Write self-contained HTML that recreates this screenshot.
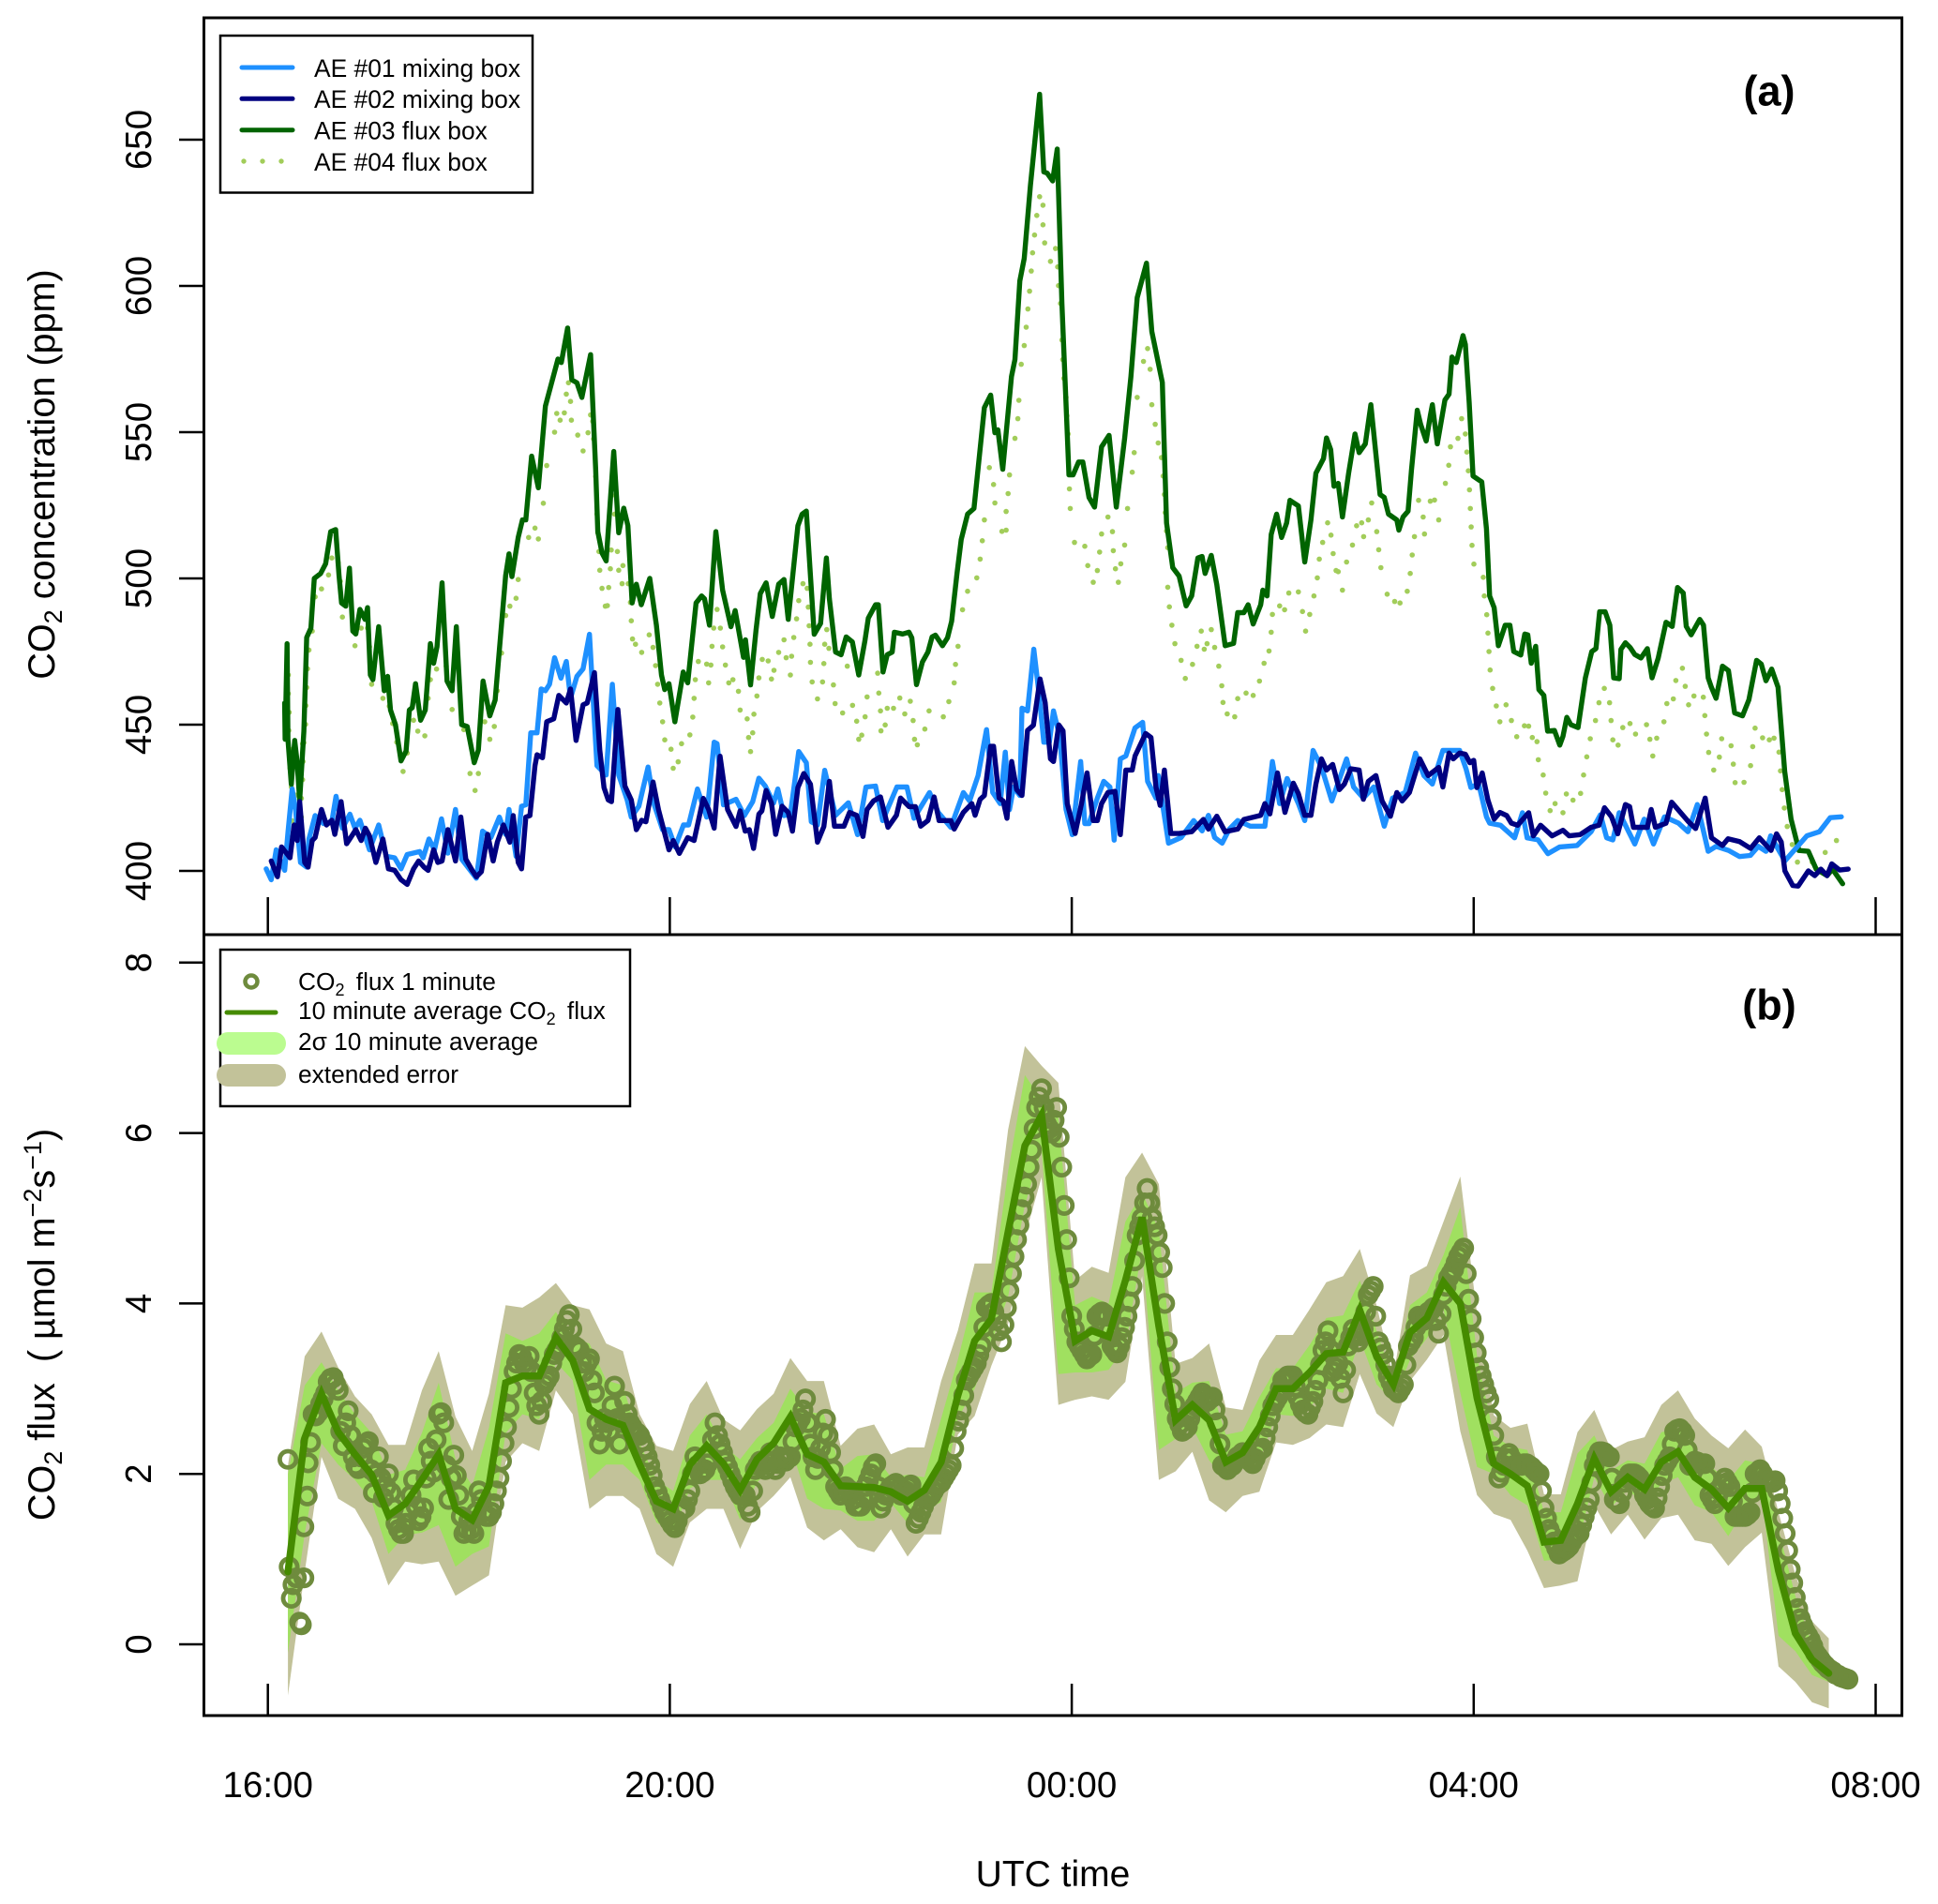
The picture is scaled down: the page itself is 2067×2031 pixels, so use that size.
<!DOCTYPE html>
<html lang="en">
<head>
<meta charset="utf-8">
<title>CO2 concentration and flux</title>
<style>
html,body{margin:0;padding:0;background:#fff;}
svg{display:block;font-family:"Liberation Sans",sans-serif;}
text{fill:#000;}
</style>
</head>
<body>
<svg id="chart" xmlns="http://www.w3.org/2000/svg" width="2067" height="2031" viewBox="0 0 2067 2031">
<rect x="0" y="0" width="2067" height="2031" fill="#fff"/>
<g id="panelA"></g>
<g id="panelB"></g>
<g id="axes"></g>
<rect x="217.5" y="19" width="1811" height="978" fill="none" stroke="#000" stroke-width="3"/>
<rect x="217.5" y="997" width="1811" height="833" fill="none" stroke="#000" stroke-width="3"/>

<g>
<rect x="235" y="38" width="333" height="167.5" fill="#fff" stroke="#000" stroke-width="2.5"/>
<line x1="258" x2="312" y1="72" y2="72" stroke="#1e90ff" stroke-width="5" stroke-linecap="round"/>
<line x1="258" x2="312" y1="105.3" y2="105.3" stroke="#000080" stroke-width="5" stroke-linecap="round"/>
<line x1="258" x2="312" y1="138.7" y2="138.7" stroke="#006400" stroke-width="5" stroke-linecap="round"/>
<circle cx="260" cy="172" r="2.7" fill="#a2cd5a"/>
<circle cx="280" cy="172" r="2.7" fill="#a2cd5a"/>
<circle cx="300" cy="172" r="2.7" fill="#a2cd5a"/>
<text x="335" y="82" font-size="26.4">AE #01 mixing box</text>
<text x="335" y="115" font-size="26.4">AE #02 mixing box</text>
<text x="335" y="148.5" font-size="26.4">AE #03 flux box</text>
<text x="335" y="182" font-size="26.4">AE #04 flux box</text>
</g>

<g>
<rect x="235" y="1013" width="437" height="167" fill="#fff" stroke="#000" stroke-width="2.5"/>
<circle cx="268" cy="1047" r="6.5" fill="none" stroke="#6e8b3d" stroke-width="4.5"/>
<line x1="242" x2="294" y1="1080" y2="1080" stroke="#458b00" stroke-width="5" stroke-linecap="round"/>
<rect x="231" y="1101" width="74" height="24" rx="12" fill="#bbfc90"/>
<rect x="231" y="1135" width="74" height="24" rx="12" fill="#c2c299"/>
<text x="318" y="1056" font-size="26.3">CO<tspan font-size="18" dy="6">2</tspan><tspan dy="-6" dx="5"> flux 1 minute</tspan></text>
<text x="318" y="1087" font-size="26.3">10 minute average CO<tspan font-size="18" dy="6">2</tspan><tspan dy="-6" dx="5"> flux</tspan></text>
<text x="318" y="1120" font-size="26.3">2σ 10 minute average</text>
<text x="318" y="1155" font-size="26.3">extended error</text>
</g>

<text x="1887" y="112.5" font-size="45" font-weight="bold" text-anchor="middle">(a)</text>
<text x="1887" y="1087.5" font-size="45" font-weight="bold" text-anchor="middle">(b)</text>
<text x="1123" y="2012" font-size="39" text-anchor="middle">UTC time</text>
<text transform="translate(58,506) rotate(-90)" font-size="39.6" text-anchor="middle">CO<tspan font-size="27" dy="8">2</tspan><tspan dy="-8"> concentration (ppm)</tspan></text>
<text transform="translate(58,1413) rotate(-90)" font-size="39.6" text-anchor="middle">CO<tspan font-size="27" dy="8">2</tspan><tspan dy="-8"> flux&#160; ( µmol m</tspan><tspan font-size="27" dy="-14">−2</tspan><tspan dy="14">s</tspan><tspan font-size="27" dy="-14">−1</tspan><tspan dy="14">)</tspan></text>
</svg>
<script>
const xTickMinutes = [0, 240, 480, 720, 960];
const xTickLabels = ["16:00", "20:00", "00:00", "04:00", "08:00"];
const concTicks = [400, 450, 500, 550, 600, 650];
const fluxTicks = [0, 2, 4, 6, 8];

const ae03Minutes = [10,10.3,11.5,12,14,16,17.5,19,21.5,23.2,25.7,27.7,31.5,34.5,37.5,40.5,42.5,44,46.5,48.7,50.7,52.5,55,58,59.5,61.2,62.7,66.2,69.5,71.5,73.2,76.2,79.5,82.5,84.5,86.2,88.2,91.2,94,97,99,101,104,107,110,112.5,115.7,119,123.2,125.7,128.5,132.5,135.7,138.2,142,144,145.7,149.5,152,154,157.5,161.5,165.7,173.2,175.2,179,181.5,184.5,187.5,192.7,195.7,197,199.5,202,206.5,209.5,212.5,215,217.5,220,223,228,232,235,237,239.5,243,248,250.7,255.7,259,260.7,263.7,267.5,271.5,276.5,279,284,285.2,288.2,291.5,294,297.5,301.2,305,308.2,310.7,316.5,319,321.5,326.2,330,333.5,335.3,339,342.3,345.3,349,352.8,356.5,358.5,362.8,364.5,367.3,369.8,372.8,374.1,379,382.8,384.5,387.3,390.8,394.1,396.6,398.6,402.8,405.8,408.3,411.5,414,417.8,421.6,427.8,431.6,434.1,435.9,438.8,444,446.1,449,451.6,455.3,460.8,463.3,465.3,468.6,471.3,474.1,478.3,480.8,484.1,486.6,490.3,493.6,497.8,502.3,506.6,511.6,515.3,519.1,524.6,527.8,531.6,534.1,536.6,540.3,544.1,548.3,551.6,555.3,557.8,559.6,563.3,566.6,571.6,576.6,579.1,582.8,585.3,588.3,592.8,594.1,596.6,599.1,602.3,605.3,608.3,610.3,615.3,619.1,622.8,625.8,630.3,632.1,634.6,636.6,639.1,641.6,645.3,649.1,651.6,655.3,658.6,664.1,666.6,669.1,674.1,675.3,677.8,680.8,682.8,686.3,688.3,691.6,694.1,695.3,698.3,702.8,705.3,707,709.6,713.6,715,717.3,719.6,723.3,724.8,727.6,729.5,732.2,734.7,738.8,741.6,743.9,748.1,750.5,752.3,754.4,757,758.9,761.9,764.1,768.2,771.4,773.3,775.6,778,782.3,784.1,786.7,790.5,793,795.2,798.5,801.3,803.6,806.9,807.9,810.6,813.4,816.2,819.9,823.7,826.5,830.2,834.8,838.5,841.7,845.1,846.9,849.8,855,857.2,860,861.9,864.7,868.5,872.1,875.8,880.5,884.3,888.9,891.7,894.5,897.9,901.7,905.7,909.5,914.2,919.8,924.5,931,934.2,940.3];
const ae03Values = [457.4,445,477.7,445,429.6,444.6,437,424,447.8,479.8,483,500,501.7,505,516,516.7,501,491.6,490.5,503.5,482,481,489.4,486,490,467,465.4,483.5,461.6,466.5,455,450,437.6,441,455,455.8,464,451.5,455,477.7,471,476.6,498.5,464.9,461.6,483.5,450,449.4,437,441.3,464.9,453,458.4,475.5,501,508.4,500.6,514,520,520,541.8,531,558.9,575,573.8,585.6,567.9,566.9,561.9,576.5,537.5,516,508.7,506,543.4,515.6,524,518,491.6,498,491,500,484,467,462,464,451,468,464.3,491.6,494,493,484,516,496,483.5,489,473,479,463.6,482.5,494.8,498.5,487,498,499.6,486,518,522,523,480.9,484.6,507,493,474.8,473.9,480,478.3,467,478.7,486.4,491,491,468,473.9,474.8,481.6,481,481.6,479.7,463.7,471.4,474.8,480,480.6,477,479.7,485.4,501.7,513.3,522,523.9,558.4,562.7,549.8,550.8,537.3,569,574.8,601.7,609.4,634.3,665.5,639,638.6,635.9,646.8,594,535.4,535.4,539.8,539.8,527.7,524.4,545,548.9,524.4,547.9,569,596,607.8,584.4,573.8,567,519,503.7,500.8,490.6,494,507,507.5,501.7,507.9,497.9,477,477.8,488.3,488.3,491,484.4,491,496,494,515,522,514,519,526.7,524.8,505.6,520,536,541,548,544,531.5,532.5,521,536,549.4,543,546,559.4,528.7,527.7,522,520,516.5,521,523,537,557.5,552.7,547,555.6,559.4,546,561,563,575.7,573.8,583,580,560,535,533.6,533,517,494,490,477,484,484,475,473.8,481,480.7,471,476.8,462,460,447.8,448,443,446,452.5,450,449,456,466,475,476,488.6,488.6,484,466,465.7,475.7,478,476.4,474,472.8,476,466,472.8,485,483.6,496.9,495,483.6,480.7,486,484,466,462.8,459,470,468.5,454,453,458.5,472,470.7,465,469,462.8,434,417.7,407,406.7,400.6,398.4,400.6,395.6];

const ae02Minutes = [2,5.7,8.2,13.2,15.7,17.5,19,22,24,26.5,28.2,32,35,38.2,40,43.7,47,49.5,52.5,55.7,58.2,60.7,64.5,68.7,72,75.7,79.5,83.2,87,90,93.2,95.7,99,101.5,104,107.5,112,115.2,118.2,122,124.5,127.5,131.2,134.5,137,140.7,144.5,146.5,149.5,151.5,154,156.5,159.5,160.7,164,166.5,170.7,173.7,178.2,180.7,184,188.2,190.7,195,198.2,200.7,203.2,205.2,209,213.2,217,220,223.2,225.7,230,233.2,239.5,242,245.7,250.7,254.5,260,263.2,266.5,270,274.5,279.5,282,285,287.5,290,293.2,295,297.5,300.7,303.2,307,310.7,313.2,316.5,320,324,328.2,332,335.3,338.3,344,347.3,351.6,355.3,357.8,361.6,365.8,370.3,375.3,377.8,382.8,386.6,389.8,394.1,397.8,400.8,407.8,409.8,415.3,420.3,422.3,425.3,427.8,431.6,433.3,436.6,439.1,441.3,444.1,447.1,450.3,453.6,457.1,461.1,464.1,467.3,469.1,472.3,474.8,477.3,482,485.8,489.1,492.8,495.3,497.8,501.6,505.8,509,512.3,516.1,517.8,524.1,527.3,530.3,532.8,535.3,539.1,544.1,551.6,558.6,561.6,566.6,571.6,579.1,582.8,592.8,595.3,598.3,602.8,607.3,612.3,615.3,619.1,622.8,625.8,629.1,632.1,635.8,639.8,642.8,646.6,651.6,654.1,657.1,661.6,665.3,670.3,674.1,677.3,681.6,687.8,692.8,699.1,701.6,705.3,707.8,711.6,715,717.7,720,721.9,725.1,728.5,732.2,735.6,739.7,742.5,746.2,752.8,755.6,759.9,766.8,773.3,777,783.6,790.1,794.8,798.1,802.3,806,810.6,813.1,815.4,823.7,826,828.5,834.8,838.2,848,852.5,858.2,862,868.5,871.9,878.8,885.3,890.5,897.5,900.8,903.6,905.8,910.5,913.7,919.8,923.6,927.3,931,933.8,938.5,943.6];
const ae02Values = [403.4,398,408.2,404.5,415.7,410.4,423.7,402.9,401.3,410.4,411.4,421,415.7,417.3,412.5,423.7,409.3,411.4,414.1,410.4,414.6,412,402.9,410.9,400.7,400.2,397,395.4,400.7,403.4,401.3,400.2,407.2,402.9,403.4,414.1,403.4,418.4,404,400.2,398,399.7,412.5,403.4,409.8,415.7,409.8,418.9,402.9,400.7,418.4,418.9,436,439.7,438.7,451,452,460,457.4,462.2,444.6,456.8,457.4,467.8,441.3,428.5,424.3,423.7,455.2,429,424.3,414.1,417.3,416.8,430.4,421,407.2,410.4,406,411.4,410.4,424.8,421,414.6,439.2,421,415.2,420.5,413.6,414.1,407.7,419.4,420.5,427.5,423.2,412.5,422.1,420,413.6,428.5,433.3,429.6,409.8,415.2,430.6,415.3,415.3,420,419,411.8,421,423.9,425.3,414.9,419,424.9,422,422,415.3,417.2,425.3,417.2,417.2,414.3,420,423,419,424.5,425.8,442.6,442.6,424.9,423.9,418,437.4,427.8,425.8,448,449.8,465.6,457.6,438.3,437.4,449.9,447.9,423,412.8,423,433.5,417.2,417.2,423,426.8,427.2,412.4,434.5,434.5,439.3,447,445.6,428.7,422.4,434.5,412.8,412.8,413.4,417.6,414.3,418.7,413.4,414.3,417.6,419,423,419.5,433.5,420,430,426.4,419,419,429.7,438.3,434.5,436.4,427.8,429.7,434.9,434.5,424.5,430.6,432.6,423.9,418.7,426.8,423.9,426.8,438.3,432.6,435.4,428.7,440.3,438.3,440.3,439.9,437,437.8,428.5,433.5,424.2,417.7,420,418.9,416.3,415.6,419.9,412,415.6,412,413.9,412,412.4,414.9,415.6,421.6,418.5,412.7,422.7,422,414.9,414.9,421,414.9,416.3,423.5,417,414.5,424.9,411.3,408.7,411,410,407.7,411.3,407,412.7,409.9,400,395,394.8,400,398.4,400.6,398.4,402.4,400.3,400.6];

const ae01Minutes = [-1,2,5,10,12,14.5,16.5,19.5,23.2,24.5,28.2,33.2,38.2,40.7,44.5,49,52,55,60.7,66.2,70.7,75.7,79.5,83.2,90.7,92.7,96.2,99.5,103.7,107.5,112,115.7,124.5,128.2,133.2,138.2,142,144,148.2,151.5,154,157,160.7,163.2,165.7,168.2,171.2,175,178.2,180.7,184.5,188.2,192,196.5,202,205.7,209.5,214.5,217,221.5,227,230.7,235.7,239.5,243.2,248.2,251.2,256.5,262,266.5,268.2,272,279.5,284.5,289.5,293.2,297,302,304.5,308.2,312,317,321.5,324.5,328.2,332.5,339,346.6,352.1,357.1,362.8,367.1,375.6,381.6,385.8,395.1,400.3,407.8,415.3,419,424.1,429.1,432.8,437.3,440.3,442.8,445.3,449,450.3,453.6,457.3,460.3,463.3,466.6,469.1,472.8,476.6,480.3,485.3,487.8,490.3,495.3,499.1,502.8,505.3,509,512.3,517.8,522.3,525.3,530.3,531.6,537.8,545.3,552.8,557.8,561.6,565.3,569.8,574.1,579.1,586.6,595.3,599.8,604.1,608.6,615.3,619.1,624.1,629.1,635.3,644.1,648.3,654.1,660.3,666.6,671.6,679.1,685.3,690.3,695.3,701.6,711.6,715.4,718.3,722.9,727.6,729.5,736,744.4,749.1,751.9,758.4,764.3,771.4,781.7,790.1,795.7,799.4,803.1,806.9,816.2,821.8,827.4,833.9,842.3,847.9,853.5,856.4,860,864.7,872.2,878.7,885.2,889.9,894.5,897.3,905.8,918.9,926.4,932.9,939.5];
const ae01Values = [400.7,397,407.2,400.2,413,428,421,402.9,401.3,410.9,418.9,416.2,416.8,425.5,414.6,419.4,414.6,417.3,407.2,415.7,405,404.5,400.7,405.6,406.6,404.5,410.9,407.2,417.8,406.1,421,404,397.5,413.6,411.4,418.4,412.5,421,405,422.1,422.6,447.2,447.2,462.2,461.6,463.8,472.9,465.9,471.6,459,466.5,469.1,480.9,436,432.8,463.8,432.8,424.3,418.4,422.1,435.5,422.6,414.1,414.1,408.2,415.7,415.7,428,418.4,444,443.5,422.6,424.5,418.9,423.7,431.7,429,423.2,428,418.9,419.4,440.8,437,416.8,415.7,434.4,419,423.3,412.4,428.7,429,417.2,428.7,428.7,418,426.8,420,414.9,426.8,423.9,432.6,448.3,426.8,423,440.6,421,428.7,425.8,455.6,454.7,475.8,461.4,444,444,454.7,446,421,412.4,437.4,416.2,416.2,424.9,430.6,428.7,410.5,438.3,439.3,448.9,450.8,430.6,424.9,432.6,409.5,411.4,417.2,413.7,419,411.4,409.5,414.3,417.2,415.3,415.3,437.4,423,431.6,423,417.2,441.2,435.5,423.9,438.3,428.7,424.9,428.7,415.3,424.9,426.8,440.3,432.6,429.7,441.2,441.2,434.9,428.5,429.9,418.5,416.3,415.6,411.3,419.9,411.3,410.6,405.9,408.2,408.7,413.4,419.2,411.3,410.6,419.9,409.2,417.7,409.2,418.5,416.3,413.4,422.7,415.6,406.7,408.4,407,404.9,405.3,408.4,406.7,412,403.4,412,413.4,418.2,418.5];

const ae04Minutes = [12.2,12.2,12.5,12.7,13.2,13.2,14,14,14.5,16.5,18.2,18.2,20,20,20.7,20.7,21,21.5,22.5,22.5,22.7,23.2,23.7,24.5,26.5,28.2,32,36.2,38.2,42,43.2,44.5,48.2,52,55.7,59.5,60.7,62,65.7,68.7,72.5,74.5,77,80.7,83.2,87,89.5,93.7,95.7,97,100.7,104.5,106.5,110,113.2,117,120.7,123.7,125.7,129.5,132.5,135.2,137,139.5,142,144.5,148.2,149.5,155.7,159.5,161.5,164.5,166.5,171.2,172.5,174.5,177,178.2,179.5,180.7,181.2,185,188.2,191.2,192.7,194,194.5,195.7,196.5,197,197.7,198.2,199.5,201.5,202.7,203.5,204.5,205,207,207.5,208.7,209.5,212,211.5,215.2,216.5,217,217.7,219.5,223.2,227.7,230,231.5,232.7,234,235.7,237,240.7,242,245,247,252,253.7,254.5,255.2,257,262,264.5,263.2,265.2,266.2,268.2,270.2,271.5,273.2,275.2,277.7,281,282,286.2,287,288.2,289.5,290.2,292,293.2,295.2,298.7,300.7,302.2,305,308.2,309.5,312.7,314,312,315.7,317,319.5,322,322.7,323.2,323.7,324,325,328.2,331.2,332,332.5,333.7,335,337.7,338.7,343.2,346,349.1,351.6,356.6,352.8,354.6,357.8,364.1,364.8,365.8,369.8,366.1,368.6,373.6,377.3,380.3,383.6,385.3,386.1,387.8,392.3,394.8,403.3,406.6,409.8,410.6,412.1,414.8,417.8,423.3,425.3,426.6,427.8,430.8,433.3,434.1,440.8,442,438.3,440.8,442.8,446.1,447.8,448.4,449.8,451.6,452.8,453.8,454.8,455.8,456.6,457.8,459.1,460.8,462.8,462.8,463.8,467.3,471.6,470.3,472.1,473.3,474.1,474.6,475.3,476.6,477.1,477.8,478.6,479.1,481.6,487.8,489.6,492.8,495.3,496.6,497.8,501.6,504.3,504.8,506.1,507.8,509.3,511.6,513.3,516.1,517.3,519.1,522.8,525.3,526.8,527.8,529.8,531.6,533.6,534.6,535.3,535.8,536.6,537.3,537.3,538.3,539.8,541.6,545.3,547.8,552.1,554.8,557.3,559.1,560.8,563.3,565.3,567.8,569.6,570.3,572.8,577.3,579.1,584.1,588.3,592.1,594.8,597.8,599.1,599.8,604.1,607.1,609.6,615.3,617.8,619.6,622.1,624.6,626.6,627.8,629.8,632.8,634.8,636.1,637.8,639.1,644.1,641.6,647.6,650.1,653.1,654.3,657.1,659.1,662.1,663.3,664.6,668.3,672.8,676,680.3,682.1,683.3,684.6,687.1,689.8,694.1,696.6,699.1,690.6,703.1,705.1,706.1,710.6,712.8,715,715.9,716.8,717.5,718,718.5,719,720.1,725.7,726.3,727.8,728.5,729.1,729.8,731.3,733.5,739.3,735.6,742.5,745.7,750.3,752.8,755,757.8,758.6,761.5,763,768.6,765.6,773.3,775.3,779.3,783.8,785.6,787.5,789.6,792.7,794.8,798,801.1,802,803.1,806.2,809,813.3,816.6,823.2,825.2,826.9,829.3,833.6,835.3,839.2,840.7,844.6,846.3,848.3,851.5,857.1,858,859,860.3,863.3,866.7,868.1,873.7,875,876.1,881.4,885.3,886.6,888,892.5,896.5,899.3,902.3,903.2,904.2,905.5,907.2,910.2,913.3,922.1,929.9,936.6];
const ae04Values = [467,460.6,448,454.2,441.6,435.1,428.7,423.2,417.1,425.9,419.4,413.6,418.4,424.8,431.2,443.5,437.4,443.8,450.1,462.7,456.5,462.7,469.1,475.5,482,493.7,496.4,501.2,507,505.4,499,486.8,495.8,477,483,483,476.6,463.8,477.7,459,456.3,450.4,444,434,440.3,451.5,447.8,446.2,459,465.4,469,488.4,470,455.2,474,448.3,433.3,427.5,433.3,451,445,449.4,461.6,474.5,487.3,490.5,493.2,499.6,514,517.2,513.5,525.7,538.6,550,556.4,554.1,556.6,563,566.9,560.5,554.1,549,543.6,549.8,555.9,553.7,547.7,534.8,522,515.6,509.2,502.8,496.6,490.5,490.7,496.9,503.3,509.7,522,528.4,509.2,502.8,504.4,498.2,498.2,491.8,485.5,479.3,477.5,474.7,480.7,476.4,470.2,463.8,457.4,451,444.8,441.6,435.1,437.3,443.5,446.5,452.6,459,465.4,471.6,470.7,470.4,464.3,476.8,483,489.4,483,476.6,470.4,464.3,465.4,461.4,455,452,445.6,440.8,447.2,453.6,459.8,466,472.3,471.8,465.6,468.6,474.7,479,472.9,473.4,479.8,467,486.2,492.4,498.2,496.6,490.2,483.8,477.5,471.3,464.6,458.8,464.6,470.9,477.5,482.5,476.1,463.6,457.2,454,470,456.6,451.2,452.7,445,446.4,459.5,467.6,460.8,454.7,455.6,447.9,449.9,455.6,459.1,453.7,458,451.4,445,443.1,448.5,454.7,452.7,457.9,464.3,470.6,476.8,489.3,495.6,500.2,506.6,512.9,520,537.9,532.1,525.8,522.9,529,516.1,516.5,535.4,547.9,554.6,560.9,573.2,579.6,585.9,592.1,598.2,605.1,611.3,617.4,624.1,630.5,627.6,620.9,614.7,608.4,606.5,612.8,600.1,594,581.5,574.8,568.4,561.9,555.6,549.4,530.6,523.9,512.3,511,504.4,498.7,502.7,509,515.2,521,516,509.5,503.3,498.7,505,511.4,523.9,536.3,543,561.9,574.2,578.6,571.5,559.4,552.7,546.3,541.3,535,528.7,522.5,516.2,510.5,497,490.3,484,477.7,472,465.8,470.6,476.8,482,475.8,477.7,482.5,476.4,470,463.3,457.6,453.7,452.7,458.9,460.8,460,464.9,471,475.2,481.6,487.7,490.6,489.3,495,495.4,488.7,482,487.7,494,500.2,506.6,512.3,519,514.8,508.5,502.7,502.3,505.6,496,511.4,518,519,514.3,520,525.8,516,509.8,503.7,494.6,492.1,491.6,495.6,501.7,508,514.3,526.7,521,526.4,526.8,520,515.2,532.5,538.7,545,547.9,554.6,549.4,543.2,536.8,530.3,523.9,517.6,511.3,504.9,500.4,494,487.6,481.3,475,468.7,462.4,456.4,456.8,451,451.4,445.9,449.6,449.5,445.6,444.2,438,432.8,426.6,423,420.6,419.9,426.3,424.2,426.5,432.8,439,445.2,451.4,457.5,462.4,457.5,451.4,444.8,443,449,450.4,446.8,450,445,439.3,445.4,451,457.2,458.8,465.1,469.3,463.1,456.8,459.8,459.4,453.1,446.8,440.5,434.5,438.9,445.2,442.8,436.5,430.2,430.3,436,442.5,448.8,445.5,444.8,445.4,440.6,434.2,427.8,421.5,415.2,409,403,403,406.3,410.4];

const fluxAverage = [0.85,2.42,2.94,2.49,2.23,1.99,1.51,1.65,1.93,2.23,1.59,1.46,1.86,3.07,3.15,3.15,3.6,3.33,2.76,2.64,2.57,2.11,1.68,1.59,2.11,2.33,2.12,1.81,2.17,2.36,2.67,2.23,2.14,1.86,1.85,1.84,1.79,1.68,1.81,2.14,2.92,3.56,3.82,4.84,5.85,6.21,4.64,3.56,3.68,3.61,4.27,5.01,3.73,2.63,2.81,2.63,2.14,2.25,2.55,3,3,3.19,3.41,3.43,3.92,3.38,3.05,3.66,3.83,4.25,4,2.89,2.12,2,1.86,1.2,1.22,1.65,2.18,1.79,1.96,1.82,2.14,2.26,1.96,1.82,1.6,1.83,1.83,0.86,0.13,-0.18,-0.34];
const extendedUpper = [2.1,3.38,3.67,3.25,2.91,2.7,2.34,2.34,2.98,3.44,2.67,2.27,2.94,3.98,3.95,4.07,4.24,3.98,3.93,3.53,3.44,2.7,2.33,2.27,2.82,3.09,2.64,2.51,2.76,2.94,3.36,3.09,3.09,2.33,2.53,2.58,2.23,2.31,2.31,3.09,3.68,4.47,4.47,6.04,7.02,6.79,6.59,4.27,4.43,4.36,5.48,5.77,5.4,3.29,3.36,3.53,2.78,2.75,3.33,3.63,3.63,3.93,4.25,4.32,4.64,3.98,3.14,4.33,4.44,4.96,5.49,3.87,2.69,2.54,2.59,1.76,1.76,2.49,2.75,2.28,2.38,2.43,2.81,2.98,2.65,2.45,2.3,2.52,2.32,1.55,0.82,0.27,0.07];
const extendedLower = [-0.6,0.85,2.2,1.71,1.59,1.25,0.69,0.97,0.94,0.97,0.57,0.69,0.81,2.14,2.36,2.27,2.98,2.7,1.59,1.74,1.74,1.59,1.06,0.91,1.43,1.59,1.59,1.12,1.56,1.74,1.96,1.37,1.22,1.35,1.14,1.08,1.35,1.03,1.29,1.29,2.46,2.68,3.27,3.76,4.79,5.48,2.81,2.87,2.91,2.87,3.08,4.32,1.93,2.03,2.26,1.69,1.55,1.74,1.79,2.37,2.34,2.42,2.58,2.55,3.17,2.71,2.55,3.09,3.34,3.63,2.5,1.75,1.53,1.46,1.1,0.66,0.69,0.74,1.63,1.29,1.52,1.23,1.48,1.52,1.22,1.18,0.92,1.14,1.31,-0.26,-0.44,-0.68,-0.75];
const sigmaUpper = [2,3.04,3.31,2.98,2.7,2.48,1.99,2.05,2.48,3.07,2.17,1.86,2.54,3.65,3.56,3.65,3.9,3.59,3.53,3.1,3.04,2.36,1.93,1.8,2.45,2.7,2.33,2.17,2.42,2.6,3,2.73,2.7,2.06,2.21,2.23,1.96,1.99,1.96,2.65,3.34,4.13,4.13,5.55,6.68,6.39,6.19,3.98,4.08,4,4.96,5.3,4.86,2.95,3.07,3.09,2.46,2.5,2.9,3.24,3.24,3.51,3.83,3.86,4.27,3.68,3.09,3.98,4.13,4.57,5.13,3.38,2.45,2.32,2.28,1.55,1.55,2.24,2.45,2.04,2.16,2.12,2.49,2.53,2.28,2.08,1.92,2.16,2.12,1.35,0.57,0,-0.24];
const sigmaLower = [-0.1,1.3,2.36,2.11,1.93,1.68,1.06,1.28,1.31,1.4,0.91,1.06,1.15,2.48,2.7,2.64,3.31,3.1,1.93,2.11,2.11,1.93,1.43,1.31,1.83,1.93,1.93,1.46,1.9,2.08,2.33,1.71,1.59,1.57,1.45,1.45,1.66,1.42,1.57,1.67,2.65,3,3.54,4.08,5.16,5.8,3.17,3.19,3.19,3.22,3.49,4.64,2.28,2.41,2.55,2.16,1.92,2.06,2.16,2.7,2.68,2.78,3,2.95,3.59,3.05,2.85,3.34,3.59,3.93,2.95,2.08,2,1.75,1.63,0.98,1,1.14,1.96,1.61,1.82,1.63,1.88,1.96,1.63,1.55,1.27,1.59,1.75,0.1,-0.08,-0.36,-0.44];

const fluxStartMinutes = [12,12.7,14,15,17,19,20,21.5,21.5,23.5,24,25.5];
const fluxStartValues = [2.17,0.91,0.54,0.7,0.78,0.26,0.23,0.78,1.38,1.74,2.13,2.37];
const fluxMinuteValues = [2.7,2.72,2.88,3.08,3.13,2.98,2.33,2.74,2.2,2.06,2.3,2.38,1.78,2.2,1.72,2,1.6,1.35,1.3,1.55,1.93,1.45,1.6,2.3,2.02,2.7,2.6,1.7,2.22,1.75,1.3,1.45,1.3,1.8,1.55,1.5,1.65,1.95,2.36,2.78,3.2,3.4,3.3,3.38,2.95,2.7,3.05,3.15,3.4,3.5,3.7,3.87,3.5,3.45,3.2,3.35,2.95,2.35,2.65,2.5,3.03,2.35,2.85,2.6,2.5,2.45,2.3,2.1,1.85,1.7,1.55,1.45,1.37,1.55,1.6,1.8,2.2,2,2.05,2.2,2.6,2.35,2.15,2,1.85,1.75,1.75,1.55,2.05,2.15,2.05,2.25,2.05,2.2,2.15,2.2,2.55,2.65,2.88,2.35,2.05,2.3,2.64,2.25,1.85,1.75,1.85,1.8,1.62,1.62,1.85,2,2.12,1.6,1.75,1.85,1.89,1.75,1.8,1.87,1.42,1.55,1.7,1.75,1.85,1.9,2,2.1,2.5,2.75,3.1,3.2,3.3,3.5,3.95,4,3.8,3.55,3.95,4.35,4.75,5.1,5.4,5.8,6.3,6.52,6.1,6,6.3,5.6,4.75,3.85,3.55,3.45,3.35,3.4,3.85,3.9,3.85,3.5,3.42,3.6,3.85,4.2,4.8,5,5.35,5,4.8,4.42,3.55,3,2.65,2.5,2.55,2.75,2.85,2.95,2.85,2.9,2.6,2.1,2.05,2.1,2.2,2.25,2.2,2.12,2.25,2.3,2.55,2.8,2.9,3.1,3.15,3.15,2.9,2.75,2.7,2.85,3.1,3.45,3.68,3.2,3.3,2.95,3.5,3.7,3.55,3.7,4.1,4.2,3.55,3.4,3.15,3,2.95,3.05,3.5,3.6,3.85,3.8,3.9,3.95,3.65,4.1,4.3,4.4,4.55,4.65,4.05,3.6,3.25,3.05,2.87,2.45,1.95,2.1,2.24,2.1,2.1,2.12,2.1,2.05,2,1.6,1.35,1.2,1.06,1.1,1.15,1.25,1.3,1.5,1.7,2.1,2.26,2.25,2.2,1.7,1.65,1.9,2,2,1.95,1.75,1.65,1.6,1.85,2.1,2.2,2.5,2.53,2.45,2.1,2.15,2.12,2.12,1.75,1.65,1.8,1.95,1.85,1.5,1.5,1.5,1.55,2,2.05,1.95,1.9,1.92,1.65,1.3,0.88,0.55,0.3,0.15,0.05,-0.1,-0.18,-0.25,-0.3,-0.35,-0.38,-0.4];
const fluxMinuteValuesMid = [2.68,2.82,2.95,3.12,3.05,2.5,2.6,2.45,2.1,2.2,2.35,2.05,2,1.95,1.85,1.78,1.42,1.3,1.42,1.75,1.62,1.5,1.95,2.15,2.4,2.72,2.1,1.95,1.98,1.5,1.35,1.35,1.55,1.7,1.5,1.55,1.8,2.15,2.55,3,3.3,3.38,3.25,3.2,2.8,2.85,3.1,3.3,3.45,3.6,3.8,3.7,3.48,3.3,3.3,3.1,2.6,2.5,2.6,2.8,2.65,2.6,2.7,2.55,2.48,2.38,2.2,1.98,1.78,1.62,1.5,1.4,1.45,1.58,1.7,2,2.1,2.02,2.12,2.4,2.45,2.25,2.08,1.92,1.8,1.75,1.62,1.8,2.1,2.1,2.15,2.15,2.12,2.18,2.18,2.38,2.6,2.75,2.6,2.2,2.18,2.48,2.45,2.05,1.8,1.8,1.82,1.7,1.62,1.72,1.92,2.08,1.85,1.68,1.8,1.87,1.82,1.78,1.85,1.65,1.48,1.62,1.72,1.8,1.88,1.95,2.05,2.3,2.62,2.92,3.15,3.25,3.4,3.72,3.98,3.9,3.68,3.75,4.15,4.55,4.92,5.25,5.6,6.05,6.42,6.3,6.05,6.15,5.95,5.15,4.3,3.7,3.5,3.4,3.38,3.62,3.88,3.88,3.68,3.46,3.5,3.72,4.02,4.5,4.9,5.18,5.18,4.9,4.6,4,3.25,2.82,2.58,2.52,2.65,2.8,2.9,2.9,2.88,2.75,2.35,2.08,2.08,2.15,2.22,2.22,2.15,2.18,2.28,2.42,2.68,2.85,3,3.12,3.15,3.02,2.82,2.72,2.78,2.98,3.28,3.55,3.45,3.25,3.12,3.22,3.6,3.62,3.62,3.9,4.15,3.85,3.48,3.28,3.08,2.98,3,3.28,3.55,3.72,3.82,3.85,3.92,3.8,3.88,4.2,4.35,4.48,4.6,4.35,3.82,3.42,3.15,2.95,2.65,2.2,2.02,2.18,2.18,2.1,2.1,2.12,2.08,2.02,1.8,1.48,1.28,1.13,1.08,1.12,1.2,1.28,1.4,1.6,1.9,2.2,2.26,2.22,1.95,1.68,1.78,1.95,2,1.98,1.85,1.7,1.62,1.72,1.98,2.15,2.35,2.52,2.5,2.28,2.12,2.14,2.12,1.95,1.7,1.72,1.88,1.9,1.68,1.5,1.5,1.52,1.78,2.02,2,1.92,1.9,1.8,1.48,1.1,0.72,0.42,0.22,0.1,-0.02,-0.14,-0.22,-0.28,-0.32,-0.36,-0.39,-0.41];

const SVGNS = "http://www.w3.org/2000/svg";
const xAt = m => 285.7 + m * 428.7 / 240;
const yConc = v => 929 - (v - 400) * 3.12;
const yFlux = v => 1754 - v * 90.9;
const averageMinuteAt = i => 12 + i * 10;
const fluxMinuteAt = i => 27 + i * 3;
const fluxMidMinuteAt = i => 28.5 + i * 3;

function make(tag, attrs, parent) {
  const el = document.createElementNS(SVGNS, tag);
  for (const k in attrs) el.setAttribute(k, attrs[k]);
  parent.appendChild(el);
  return el;
}
function linePoints(minutes, values, yFn) {
  return minutes.map((m, i) => xAt(m).toFixed(1) + "," + yFn(values[i]).toFixed(1)).join(" ");
}
function bandPoints(upper, lower) {
  const top = upper.map((v, i) => xAt(averageMinuteAt(i)).toFixed(1) + "," + yFlux(v).toFixed(1));
  const bottom = lower.map((v, i) => xAt(averageMinuteAt(i)).toFixed(1) + "," + yFlux(v).toFixed(1)).reverse();
  return top.concat(bottom).join(" ");
}

const panelA = document.getElementById("panelA");
const panelB = document.getElementById("panelB");
const axes = document.getElementById("axes");

ae04Minutes.forEach((m, i) => {
  const dot = make("circle", {cx: xAt(m).toFixed(1), cy: yConc(ae04Values[i]).toFixed(1), r: 2.8, fill: "#a2cd5a"}, panelA);
  
  
});
const lineAe03 = make("polyline", {points: linePoints(ae03Minutes, ae03Values, yConc), fill: "none", stroke: "#006400", "stroke-width": 5.4, "stroke-linejoin": "round", "stroke-linecap": "round"}, panelA);


const lineAe01 = make("polyline", {points: linePoints(ae01Minutes, ae01Values, yConc), fill: "none", stroke: "#1e90ff", "stroke-width": 5.4, "stroke-linejoin": "round", "stroke-linecap": "round"}, panelA);


const lineAe02 = make("polyline", {points: linePoints(ae02Minutes, ae02Values, yConc), fill: "none", stroke: "#000080", "stroke-width": 5.4, "stroke-linejoin": "round", "stroke-linecap": "round"}, panelA);



const bandExtended = make("polygon", {points: bandPoints(extendedUpper, extendedLower), fill: "#c2c299"}, panelB);


const bandSigma = make("polygon", {points: bandPoints(sigmaUpper, sigmaLower), fill: "#a0e060"}, panelB);



fluxStartMinutes.forEach((m, i) => {
  const c = make("circle", {cx: xAt(m).toFixed(1), cy: yFlux(fluxStartValues[i]).toFixed(1), r: 8.7, fill: "none", stroke: "#6e8b3d", "stroke-width": 4.8}, panelB);
  
  
});
fluxMinuteValues.forEach((v, i) => {
  const c = make("circle", {cx: xAt(fluxMinuteAt(i)).toFixed(1), cy: yFlux(v).toFixed(1), r: 8.7, fill: "none", stroke: "#6e8b3d", "stroke-width": 4.8}, panelB);
  
  
});
fluxMinuteValuesMid.forEach((v, i) => {
  const c = make("circle", {cx: xAt(fluxMidMinuteAt(i)).toFixed(1), cy: yFlux(v).toFixed(1), r: 8.7, fill: "none", stroke: "#6e8b3d", "stroke-width": 4.8}, panelB);
  
  
});
const lineAverage = make("polyline", {points: fluxAverage.map((v, i) => xAt(averageMinuteAt(i)).toFixed(1) + "," + yFlux(v).toFixed(1)).join(" "), fill: "none", stroke: "#458b00", "stroke-width": 7.5, "stroke-linejoin": "miter", "stroke-linecap": "round"}, panelB);



xTickMinutes.forEach((m, i) => {
  const x = xAt(m);
  const tickA = make("line", {x1: x, x2: x, y1: 957, y2: 997, stroke: "#000", "stroke-width": 2.5}, axes);
  
  
  const tickB = make("line", {x1: x, x2: x, y1: 1796, y2: 1830, stroke: "#000", "stroke-width": 2.5}, axes);
  
  
  const label = make("text", {x: x, y: 1917, "font-size": 38.5, "text-anchor": "middle"}, axes);
  
  
  label.textContent = xTickLabels[i];
});
concTicks.forEach(v => {
  const y = yConc(v);
  const tick = make("line", {x1: 191, x2: 217.5, y1: y, y2: y, stroke: "#000", "stroke-width": 2.5}, axes);
  
  
  const label = make("text", {transform: "translate(161," + y + ") rotate(-90)", "font-size": 38.5, "text-anchor": "middle"}, axes);
  
  
  label.textContent = v;
});
fluxTicks.forEach(v => {
  const y = yFlux(v);
  const tick = make("line", {x1: 191, x2: 217.5, y1: y, y2: y, stroke: "#000", "stroke-width": 2.5}, axes);
  
  
  const label = make("text", {transform: "translate(161," + y + ") rotate(-90)", "font-size": 38.5, "text-anchor": "middle"}, axes);
  
  
  label.textContent = v;
});
</script>
</body>
</html>
